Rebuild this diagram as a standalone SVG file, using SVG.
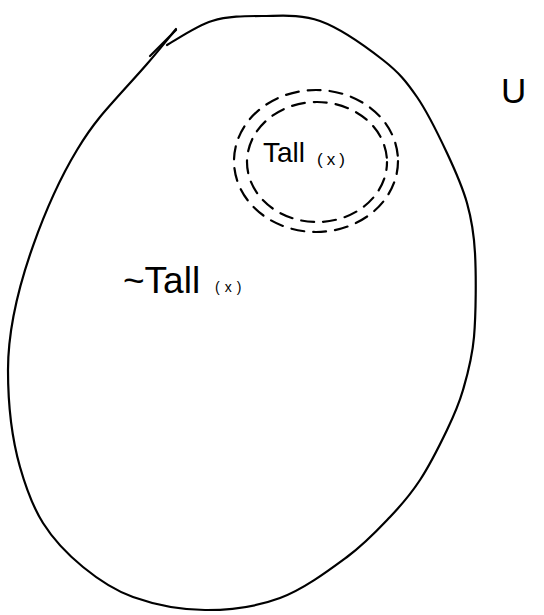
<svg xmlns="http://www.w3.org/2000/svg" width="544" height="615" viewBox="0 0 544 615">
<style>
.ln{fill:none;stroke:#000;stroke-width:2.2;stroke-linecap:round;stroke-linejoin:round}
.ds{fill:none;stroke:#000;stroke-width:2.2;stroke-linecap:round;stroke-dasharray:13 9}
.t{font-family:"Liberation Sans",Arial,sans-serif;fill:#000}
</style>
<rect width="544" height="615" fill="#fff"/>
<g id="universe">
<path class="ln" d="M150,56 L176,30"/>
<path class="ln" d="M167,45 C174.5,41 196.2,25.8 212,21 C227.8,16.2 244,16 262,16 C280,16 299.8,13.7 320,21 C340.2,28.3 366.8,47.3 383,60 C399.2,72.7 406.3,81.5 417,97 C427.7,112.5 438.7,135.3 447,153 C455.3,170.7 462.3,186.3 467,203 C471.7,219.7 473.8,230.7 475,253 C476.2,275.3 476,314.2 474,337 C472,359.8 467.5,374.5 463,390 C458.5,405.5 454.2,415 447,430 C439.8,445 429.5,465.5 420,480 C410.5,494.5 402.2,504.2 390,517 C377.8,529.8 365.3,543.5 347,557 C328.7,570.5 303.7,589.2 280,598 C256.3,606.8 229.5,610.2 205,610 C180.5,609.8 153.3,604.2 133,597 C112.7,589.8 98,579.3 83,567 C68,554.7 53.5,539.7 43,523 C32.5,506.3 25.5,486.3 20,467 C14.5,447.7 8,420 8,370 C8,290 52,191.4 77,150 C85.3,136.2 88.3,131.3 100,117 C111.7,102.7 134.3,78.7 147,64 C159.7,49.3 171.2,34.8 176,29"/>
<text class="t" x="501" y="103" font-size="35">U</text>
</g>
<g id="tall">
<ellipse class="ds" cx="316" cy="161" rx="82" ry="71"/>
<ellipse class="ds" cx="317" cy="162" rx="70" ry="60" stroke-dashoffset="5"/>
<text class="t" x="263" y="162" font-size="28">Tall</text>
<text class="t" x="317" y="165" font-size="17" letter-spacing="4">(x)</text>
</g>
<g id="nottall">
<text class="t" x="123" y="293" font-size="37">~Tall</text>
<text class="t" x="215" y="292" font-size="14" letter-spacing="5">(x)</text>
</g>
<g id="connectors"/>
</svg>
